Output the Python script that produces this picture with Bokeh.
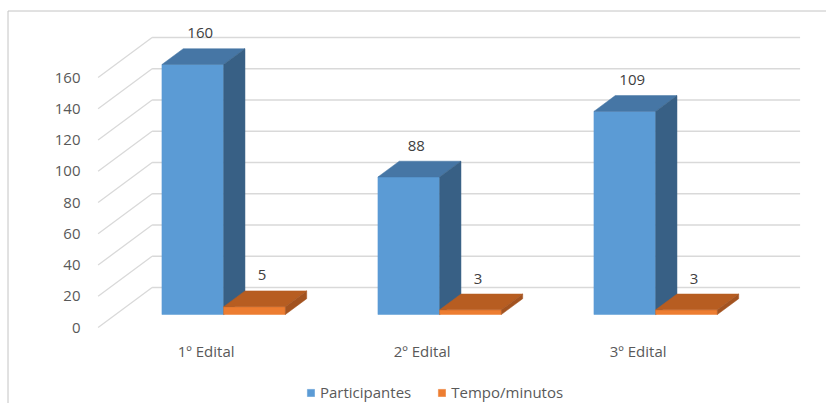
from bokeh.plotting import figure
from bokeh.models import Range1d, Legend, LegendItem
from bokeh.core.properties import value
from bokeh.embed import file_html
from bokeh.resources import INLINE

# ---- data ----
categories = ["1º Edital", "2º Edital", "3º Edital"]
series_names = ["Participantes", "Tempo/minutos"]
participantes = [160, 88, 130]            # drawn bar heights
participantes_labels = ["160", "88", "109"]  # data labels as shown
tempo_minutos = [5, 3, 3]
tempo_labels = ["5", "3", "3"]
y_ticks = [0, 20, 40, 60, 80, 100, 120, 140, 160]

# ---- layout / styling ----
W, H = 826, 403
X0_PX, CAT_PX = 97.6, 216.0      # front plane left edge, px per category
Y0_PX, UNIT_PX = 327.0, 1.5625   # front plane zero, px per unit

def xd(px):
    return (px - X0_PX) / CAT_PX

def yd(py):
    return (Y0_PX - py) / UNIT_PX

DX = 54.0 / CAT_PX     # full depth, x shift (data units)
DY = 40.0 / UNIT_PX    # full depth, y shift (data units)
F1, F2 = 0.325, 0.72   # bar front / back depth fractions
BW = 1.0 / 3.5         # bar width (gap width 150%)

FONT = value("Open Sans")
FS = "15px"
TXT = "#595959"
GRID = "#d9d9d9"

p = figure(width=W, height=H, x_range=Range1d(xd(0), xd(W)),
           y_range=Range1d(yd(H), yd(0)), x_axis_type=None, y_axis_type=None,
           output_backend="svg", toolbar_location=None, min_border=0,
           outline_line_color=None, background_fill_color="white",
           border_fill_color="white")

# outer chart border
p.line(x=[xd(7.5), xd(7.5), xd(W)], y=[yd(H), yd(10.5), yd(10.5)],
       line_color="#c4c4c4", line_width=1)

# back wall gridlines and side-wall diagonals
n = len(categories)
p.segment(x0=[DX] * len(y_ticks), y0=[t + DY for t in y_ticks],
          x1=[n + DX] * len(y_ticks), y1=[t + DY for t in y_ticks],
          line_color=GRID, line_width=1.3)
p.segment(x0=[0] * len(y_ticks), y0=y_ticks,
          x1=[DX] * len(y_ticks), y1=[t + DY for t in y_ticks],
          line_color=GRID, line_width=1.3)

# y tick labels
p.text(x=[xd(80)] * len(y_ticks), y=y_ticks, text=[str(t) for t in y_ticks],
       text_align="right", text_baseline="middle", text_font=FONT,
       text_font_size=FS, text_color=TXT)

# category labels on the front plane
p.text(x=[i + 0.5 for i in range(n)], y=[yd(350)] * n, text=categories,
       text_align="center", text_baseline="middle", text_font=FONT,
       text_font_size=FS, text_color=TXT)


def faces(values, offset):
    front, top, side = ([], []), ([], []), ([], [])
    for i, v in enumerate(values):
        L = i + 0.5 - BW + offset
        R = L + BW
        a, b = F1 * DX, F2 * DX
        c, d = F1 * DY, F2 * DY
        front[0].append([L + a, R + a, R + a, L + a])
        front[1].append([c, c, v + c, v + c])
        top[0].append([L + a, R + a, R + b, L + b])
        top[1].append([v + c, v + c, v + d, v + d])
        side[0].append([R + a, R + b, R + b, R + a])
        side[1].append([c, d, v + d, v + c])
    return front, top, side


def draw(values, offset, c_front, c_top, c_side):
    fr, tp, sd = faces(values, offset)
    r = p.patches(xs=fr[0], ys=fr[1], fill_color=c_front, line_color=c_front, line_width=0.5)
    p.patches(xs=tp[0], ys=tp[1], fill_color=c_top, line_color=c_top, line_width=0.5)
    p.patches(xs=sd[0], ys=sd[1], fill_color=c_side, line_color=c_side, line_width=0.5)
    return r


r_blue = draw(participantes, 0.0, "#5b9bd5", "#4676a5", "#386085")
r_orange = draw(tempo_minutos, BW, "#ed7d31", "#b75d21", "#a35320")

# data labels
def labels(values, texts, offset):
    xs = [i + 0.5 - BW + offset + BW / 2 + (F1 + F2) / 2 * DX - 0.015 for i in range(n)]
    ys = [v + F1 * DY + 20 for v in values]
    p.text(x=xs, y=ys, text=texts, text_align="center", text_baseline="middle",
           text_font=FONT, text_font_size=FS, text_color="#404040")

labels(participantes, participantes_labels, 0.0)
labels(tempo_minutos, tempo_labels, BW)

legend = Legend(items=[LegendItem(label=series_names[0], renderers=[r_blue]),
                       LegendItem(label=series_names[1], renderers=[r_orange])],
                orientation="horizontal", location=(306, 1),
                glyph_width=9, glyph_height=9, label_standoff=5, spacing=26,
                padding=0, margin=0, border_line_color=None,
                background_fill_alpha=0, label_text_font="Open Sans",
                label_text_font_size=FS, label_text_color=TXT, label_height=18)
p.add_layout(legend, "center")

open("out.html", "w").write(file_html(p, INLINE))
